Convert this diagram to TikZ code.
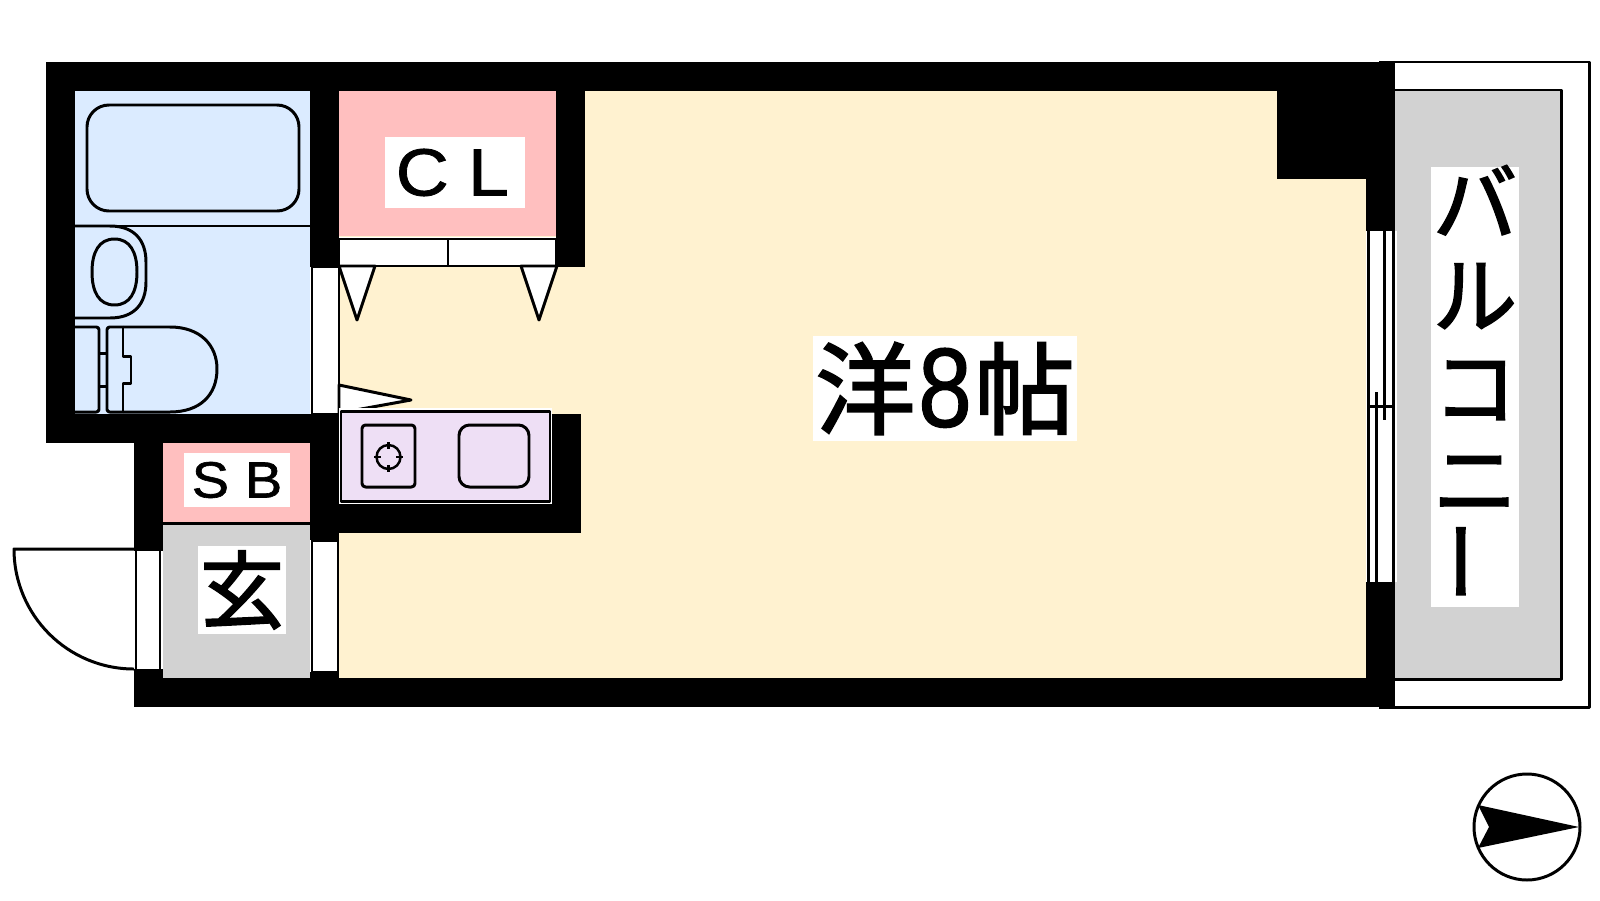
\documentclass[tikz,border=0pt]{standalone}
\usepackage{fontspec}
\setmainfont{Liberation Sans}
\newfontfamily\latinfont[FakeBold=1.2,FakeStretch=1.1]{Liberation Sans}
\newfontfamily\jpfont[FakeBold=2]{Noto Sans CJK JP}
\definecolor{bathblue}{HTML}{DBEBFF}
\definecolor{closetpink}{HTML}{FFBFBF}
\definecolor{roomcream}{HTML}{FFF2D0}
\definecolor{floorgray}{HTML}{D2D2D2}
\definecolor{kitchenlilac}{HTML}{EEDFF5}
\begin{document}
\begin{tikzpicture}[x=0.02cm,y=0.02cm]
        \tikzstyle{every node}+=[inner sep=0pt]
        \tikzstyle{wall}=[fill=black]
        \tikzstyle{line}=[draw=black,line width=1.7pt,line join=round]
        \tikzstyle{thin line}=[draw=black,line width=1.4pt,line join=round]
        \tikzstyle{opening}=[line,fill=white]
        \tikzstyle{tag}=[fill=white,text=black,align=center]
        \useasboundingbox (0,0) rectangle (1600,-900);
        % floors
        \fill [roomcream] (339,-91) rectangle (1366,-678);
        \fill [bathblue] (75,-91) rectangle (310,-414);
        \fill [closetpink] (339,-91) rectangle (556,-236);
        \fill [closetpink] (163,-443) rectangle (310,-522);
        \fill [floorgray] (163,-525) rectangle (310,-678);
        \fill [floorgray] (1395,-90) rectangle (1561,-679);
        \draw [line] (163,-523.5) -- (310,-523.5);
        % balcony
        \draw [line] (1379,-62) -- (1589,-62) -- (1589,-707) -- (1379,-707);
        \draw [line] (1395,-90) -- (1561,-90) -- (1561,-679) -- (1395,-679);
        % walls
        \fill [wall] (46,-62) rectangle (1395,-91);
        \fill [wall] (46,-62) rectangle (75,-443);
        \fill [wall] (46,-414) rectangle (339,-443);
        \fill [wall] (310,-62) rectangle (339,-267);
        \fill [wall] (556,-62) rectangle (585,-267);
        \fill [wall] (1277,-62) rectangle (1395,-179);
        \fill [wall] (1366,-62) rectangle (1395,-231);
        \fill [wall] (1366,-582) rectangle (1395,-707);
        \fill [wall] (134,-678) rectangle (1395,-707);
        \fill [wall] (134,-443) rectangle (163,-551);
        \fill [wall] (134,-669) rectangle (163,-707);
        \fill [wall] (310,-443) rectangle (339,-540);
        \fill [wall] (310,-672) rectangle (339,-707);
        \fill [wall] (339,-504) rectangle (581,-533);
        \fill [wall] (551,-414) rectangle (581,-533);
        \fill [wall] (310,-414) rectangle (339,-533);
        % bath
        \draw [line,rounded corners=12.5pt] (87,-105) rectangle (299,-211);
        \draw [line] (75,-226) -- (310,-226);
        % toilet
        \draw [line] (75,-226) -- (110,-226) .. controls (134,-226) and (146,-240) .. (146,-262) -- (146,-282) .. controls (146,-304) and (134,-318) .. (110,-318) -- (75,-318);
        \draw [line] (114.5,-239) .. controls (130,-239) and (137,-252) .. (137,-272) .. controls (137,-292) and (130,-305) .. (114.5,-305) .. controls (99,-305) and (92,-292) .. (92,-272) .. controls (92,-252) and (99,-239) .. (114.5,-239) -- cycle;
        \draw [line,rounded corners=1.5pt] (75,-327) -- (99,-327) -- (99,-412) -- (75,-412);
        \draw [line,rounded corners=1.5pt] (123,-327) -- (107,-327) -- (107,-412) -- (123,-412);
        \draw [line] (123,-327) -- (170,-327) .. controls (200,-327) and (217,-345) .. (217,-369) .. controls (217,-395) and (200,-412) .. (170,-412) -- (123,-412);
        \draw [line] (123,-327) -- (123,-356) -- (131,-356) -- (131,-383) -- (123,-383) -- (123,-412);
        \draw [line] (99,-353) -- (107,-353);
        \draw [line] (99,-386) -- (107,-386);
        % closet
        \fill [white] (339,-237) rectangle (556,-266);
        \draw [line] (339,-239) -- (556,-239);
        \draw [line] (339,-239) -- (339,-266) -- (556,-266) -- (556,-239);
        \draw [line] (448,-239) -- (448,-266);
        \draw [opening] (339,-266) -- (357,-320) -- (375,-266) -- cycle;
        \draw [opening] (521,-266) -- (539,-320) -- (557,-266) -- cycle;
        % doors
        \draw [opening] (312,-267) rectangle (339,-414);
        \draw [opening] (339,-385) -- (411,-400) -- (339,-413) -- cycle;
        \draw [opening] (312,-540) rectangle (338,-672);
        \fill [white] (136,-551) rectangle (163,-669);
        \draw [line] (136,-551) -- (136,-669);
        \draw [line] (160,-551) -- (160,-669);
        \draw [line] (136,-549) -- (14,-549) arc (180:270:120);
        % kitchen
        \fill [white] (339,-408) rectangle (552,-504);
        \draw [line,fill=kitchenlilac] (341,-411) rectangle (550,-501);
        \draw [line,rounded corners=2pt] (362,-425) rectangle (415,-487);
        \draw [line,rounded corners=6pt] (459,-425) rectangle (529,-487);
        \draw [thin line] (388.5,-457) circle (12);
        \draw [thin line] (388.5,-442) -- (388.5,-449);
        \draw [thin line] (388.5,-465) -- (388.5,-472);
        \draw [thin line] (374,-457) -- (381,-457);
        \draw [thin line] (396,-457) -- (403,-457);
        % window
        \fill [white] (1367,-231) rectangle (1397,-582);
        \draw [line] (1368,-231) -- (1368,-582);
        \draw [line] (1393,-231) -- (1393,-582);
        \draw [line] (1384,-231) -- (1384,-420);
        \draw [line] (1376,-392) -- (1376,-582);
        \draw [line] (1368,-406) -- (1393,-406);
        % labels
        \node [tag,minimum width=79.7pt,minimum height=40.4pt] (closet) at (455,-172.5) {};
        \draw ([xshift=-1.5pt]closet.center) node {\fontsize{38}{38}\selectfont\latinfont C\hspace{11pt}L};
        \node [tag,minimum width=60.3pt,minimum height=30.2pt] (sb) at (237,-480) {};
        \draw (sb) node {\fontsize{29}{29}\selectfont\latinfont S\hspace{9pt}B};
        \node [tag,minimum width=50.1pt,minimum height=50.1pt] (entry) at (242,-590) {};
        \draw (entry) node {\fontsize{48}{48}\selectfont\jpfont 玄};
        \node [tag,minimum width=150.2pt,minimum height=59.7pt] (room) at (945,-388.5) {};
        \draw (room) node {\fontsize{57}{57}\selectfont\jpfont 洋\makebox[33.6pt]{\scalebox{0.78}[1]{\latinfont\fontsize{64}{64}\selectfont 8}}帖};
        \node [tag,minimum width=50.1pt,minimum height=250.4pt] (balcony) at (1475,-387) {};
        \draw ([yshift=1.5pt]balcony.center) node [align=center,font=\fontsize{48}{52.5}\selectfont\jpfont] {バ\\ル\\コ\\ニ\\\rotatebox{90}{ー}};
        % compass
        \draw [line] (1527,-827) circle (53);
        \fill [black] (1579,-827) -- (1478,-805) -- (1489,-827) -- (1478,-848) -- cycle;
        \end{tikzpicture}
\end{document}
